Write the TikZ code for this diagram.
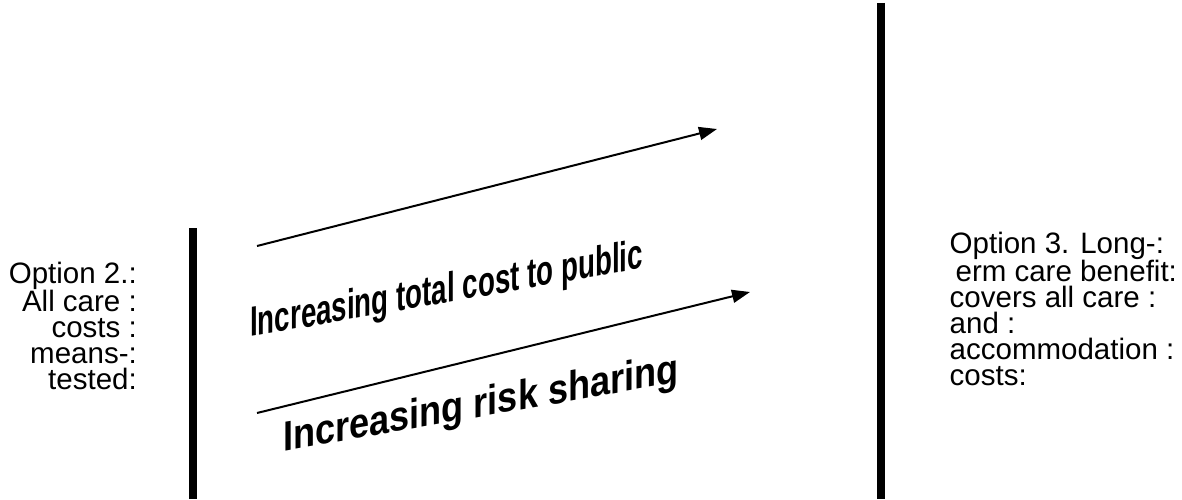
\documentclass[tikz,border=0pt]{standalone}
\usepackage{fontspec}
\usepackage{graphicx}
\setmainfont{Liberation Sans}
\usetikzlibrary{arrows.meta}
\tikzset{
  bar/.style={line width=8.5pt},
  trend/.style={line width=2pt,-{Triangle[length=18pt,width=13pt]}},
  option/.style={inner sep=0pt,font=\fontsize{29.5}{25.8}\selectfont},
  slogan/.style={inner sep=0pt,anchor=base west,yslant=0.175,font=\bfseries}
}
\begin{document}
\begin{tikzpicture}[x=1pt,y=1pt]
\useasboundingbox (0,0) rectangle (1182,499);
% the two options
\draw[bar] (193,271) coordinate (barL) -- (193,0);
\draw[bar] (881,496) coordinate (barR) -- (881,0);
\node[option,anchor=base east,align=right] (opt2) at (137,110)
  {Option 2.:\\ All care :\\ costs :\\ means-:\\ tested:};
\node[option,anchor=base west,align=left] (opt3) at (949.5,114)
  {Option 3. Long-:\\ \hspace*{.2em}erm care benefit:\\ covers all care :\\ and :\\ accommodation :\\ costs:};
% trends
\coordinate (cost0) at (257,253);
\coordinate (cost1) at (717,370);
\coordinate (risk0) at (257,86);
\coordinate (risk1) at (750,207);
\draw[trend] (cost0) -- (cost1);
\draw[trend] (risk0) -- (risk1);
\node[slogan] (costtext) at (250,162)
  {\fontsize{42}{42}\selectfont\scalebox{0.66}[1]{Increasing total cost to public}};
\node[slogan] (risktext) at (283,47.5)
  {\fontsize{42}{42}\selectfont\scalebox{0.86}[1]{Increasing risk sharing}};
\end{tikzpicture}
\end{document}
